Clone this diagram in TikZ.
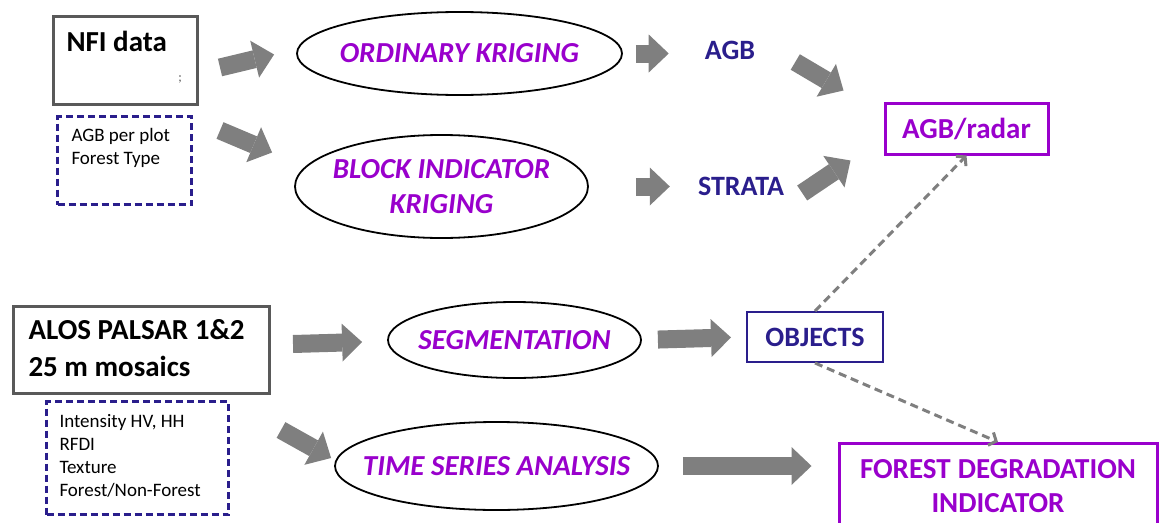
\documentclass[tikz,border=0pt]{standalone}
\usepackage{fontspec}
\setmainfont{Carlito}
\usetikzlibrary{arrows.meta, shapes.geometric, calc}
\definecolor{srcgrey}{HTML}{595959}
\definecolor{flowgrey}{HTML}{7F7F7F}
\definecolor{krigpurple}{HTML}{9900CC}
\definecolor{outnavy}{HTML}{2A1E8C}
\tikzset{
  natspace/.style={execute at begin node={\spaceskip=0pt\xspaceskip=0pt\relax}},
  srcbox/.style={rectangle, draw=srcgrey, line width=3pt, anchor=north west, align=left, natspace,
                 inner ysep=0pt, font=\fontsize{29}{37}\selectfont\bfseries},
  attrbox/.style={rectangle, draw=outnavy, line width=3pt, dash pattern=on 7pt off 4pt, natspace,
                  anchor=north west, align=left, inner ysep=0pt, font=\fontsize{19}{23}\selectfont},
  method/.style={ellipse, draw=black, line width=1.8pt, inner xsep=-30pt, inner ysep=0pt,
                 align=center, text=krigpurple, font=\fontsize{29}{35}\selectfont\bfseries\itshape},
  outlbl/.style={inner sep=0pt, text=outnavy, font=\fontsize{28}{32}\selectfont\bfseries},
  outbox/.style={rectangle, draw=outnavy, line width=2pt, text=outnavy,
                 font=\fontsize{28}{32}\selectfont\bfseries},
  resbox/.style={rectangle, draw=krigpurple, line width=3pt, text=krigpurple, align=center, natspace,
                 font=\fontsize{29}{34}\selectfont\bfseries},
  fat/.style={line width=18pt, draw=flowgrey, -{Triangle[length=20pt, width=38pt, line width=0pt]}},
  flowd/.style={line width=3pt, draw=flowgrey, dash pattern=on 8pt off 5pt,
                -{Straight Barb[length=6pt, width=14pt]}},
}

\begin{document}
\begin{tikzpicture}[x=1pt, y=-1pt]
  \path[use as bounding box] (0,0) rectangle (1159,522);
  \clip (0,0) rectangle (1159,522);
  \node[srcbox, text width=118pt, inner xsep=13pt, text height=35pt, text depth=53pt] (nfi) at (52,15) {NFI data};
  \node[font=\fontsize{13}{13}\selectfont, text=black!70] (nfidot) at (180,79) {;};
  \node[attrbox, text width=106pt, inner xsep=14pt, text height=25pt, text depth=63pt] (nfiattr) at (56,115)
    {AGB per plot\\Forest Type};
  \node[srcbox, text width=226pt, inner xsep=15pt, text height=33pt, text depth=54pt] (alos) at (12,305)
    {ALOS PALSAR 1\&2\\25 m mosaics};
  \node[attrbox, text width=156pt, inner xsep=13pt, text height=26pt, text depth=87pt] (alosattr) at (45,400)
    {Intensity HV, HH\\RFDI\\Texture\\Forest/Non-Forest};
  \node[method, minimum width=325pt, minimum height=83pt] (ok) at (459.5,53.5) {ORDINARY KRIGING};
  \node[method, minimum width=293pt, minimum height=103pt] (bik) at (441.5,186.5) {BLOCK INDICATOR\\KRIGING};
  \node[method, minimum width=253pt, minimum height=76pt] (seg) at (514.5,340) {SEGMENTATION};
  \node[method, minimum width=323pt, minimum height=88pt] (tsa) at (496.5,466) {TIME SERIES ANALYSIS};
  \node[outlbl] (agb) at (730,50) {AGB};
  \node[outlbl] (strata) at (741,186) {STRATA};
  \node[outbox, minimum width=136pt, minimum height=50pt] (obj) at (815,337) {OBJECTS};
  \node[resbox, minimum width=163pt, minimum height=51pt] (radar) at (966.5,128.5) {AGB/radar};
  \node[resbox, anchor=north, text width=300pt, inner xsep=9pt, inner ysep=0pt, text height=35pt, text depth=60pt] (fd)
    at (998,442) {FOREST DEGRADATION\\INDICATOR};
  \draw[fat] ($(nfi.east)+(21,7)$) -- ($(ok.west)+(-22,1)$);
  \draw[fat] ($(nfi.east)+(21,70)$) -- ($(bik.west)+(-22,-34)$);
  \draw[fat, shorten <=13pt, shorten >=36pt] (ok.east) -- (ok.east -| agb.west);
  \draw[fat, shorten <=47pt, shorten >=28pt] (bik.east) -- (bik.east -| strata.west);
  \draw[fat] ($(agb.east)+(40,12)$) -- ($(radar.north west)+(-40,-11)$);
  \draw[fat] ($(strata.east)+(18,7)$) -- ($(radar.west)+(-33,32)$);
  \draw[fat] ($(alos.east)+(22,-6)$) -- ($(seg.west)+(-25,2)$);
  \draw[fat, shorten <=16pt, shorten >=15pt] (seg.east) -- (obj.west);
  \draw[fat] ($(alosattr.east)+(51,-28)$) -- ($(tsa.west)+(-3,-8)$);
  \draw[fat, shorten <=24pt, shorten >=26pt] (tsa.east) -- (tsa.east -| fd.west);
  \draw[flowd] (obj.north) -- (radar.south);
  \draw[flowd] (obj.south) -- (fd.north);
\end{tikzpicture}
\end{document}
